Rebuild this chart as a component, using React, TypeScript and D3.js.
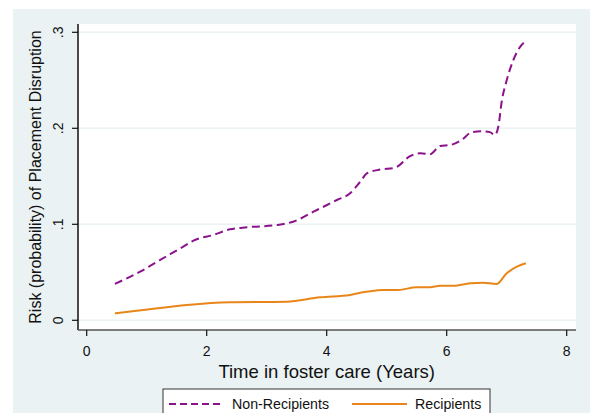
import * as d3 from "d3";

// time in care (years) and risk
const nonRecT = [0.47, 0.89, 1.22, 1.61, 1.78, 2.11, 2.39, 2.67, 3.17, 3.44, 3.78, 4.17, 4.39, 4.56, 4.67, 4.89, 5.14, 5.39, 5.56, 5.72, 5.89, 6.06, 6.25, 6.42, 6.58, 6.72, 6.8, 6.86, 6.92, 7.0, 7.11, 7.19, 7.32];
const nonRecV = [0.038, 0.0506, 0.0628, 0.0767, 0.083, 0.0889, 0.0948, 0.0969, 0.0993, 0.1027, 0.1131, 0.1253, 0.1323, 0.1444, 0.153, 0.157, 0.159, 0.171, 0.174, 0.173, 0.1816, 0.1826, 0.188, 0.196, 0.197, 0.196, 0.193, 0.2017, 0.229, 0.25, 0.271, 0.2816, 0.291];
const recT = [0.47, 0.94, 1.67, 2.39, 3.33, 3.89, 4.39, 4.56, 4.67, 4.94, 5.19, 5.5, 5.72, 5.89, 6.11, 6.39, 6.61, 6.83, 7.0, 7.17, 7.32];
const recV = [0.0073, 0.0107, 0.016, 0.0188, 0.0194, 0.024, 0.0264, 0.0288, 0.0298, 0.0316, 0.0316, 0.0344, 0.0344, 0.036, 0.036, 0.0385, 0.0392, 0.0378, 0.049, 0.0558, 0.0594];

const xTicks = [0, 2, 4, 6, 8];
const yTicks = [0, 0.1, 0.2, 0.3];
const yTickLabels = ["0", ".1", ".2", ".3"];

export default function App() {
  const width = 590;
  const height = 413;
  const left = 78, right = 576, top = 24, bottom = 330;

  const x = d3.scaleLinear([0, 8], [86.7, 566.7]);
  const y = d3.scaleLinear([0, 0.3], [320.3, 32.3]);

  const line = d3
    .line<[number, number]>()
    .x((d) => x(d[0]))
    .y((d) => y(d[1]))
    .curve(d3.curveMonotoneX);

  const nonRec = nonRecT.map((t, i) => [t, nonRecV[i]] as [number, number]);
  const rec = recT.map((t, i) => [t, recV[i]] as [number, number]);

  const font = "'Liberation Sans', Arial, sans-serif";

  return (
    <svg
      width={width}
      height={height}
      style={{ position: "absolute", left: 0, top: 0, background: "#fff" }}
      fontFamily={font}
    >
      {/* graph region */}
      <rect x={13} y={9} width={width - 13} height={height - 9} fill="#EAF2F3" />
      {/* plot region */}
      <rect x={left} y={top} width={right - left} height={bottom - top} fill="#fff" />
      {/* grid */}
      {yTicks.map((t) => (
        <line key={t} x1={left} x2={right} y1={y(t)} y2={y(t)} stroke="#EAF2F3" strokeWidth={1.5} />
      ))}
      {/* lines */}
      <path d={line(nonRec) ?? ""} fill="none" stroke="#8B128B" strokeWidth={2} strokeDasharray="8,4.5" />
      <path d={line(rec) ?? ""} fill="none" stroke="#E8861A" strokeWidth={2} />
      {/* y axis */}
      <line x1={left} x2={left} y1={top} y2={bottom} stroke="#111" strokeWidth={1.5} />
      {yTicks.map((t, i) => (
        <g key={t}>
          <line x1={left - 6} x2={left} y1={y(t)} y2={y(t)} stroke="#111" strokeWidth={1.2} />
          <text
            transform={`translate(${63},${y(t)}) rotate(-90)`}
            textAnchor="middle"
            fontSize={14}
            fill="#111"
          >
            {yTickLabels[i]}
          </text>
        </g>
      ))}
      <text
        transform={`translate(40.5,${177}) rotate(-90)`}
        textAnchor="middle"
        fontSize={16}
        fill="#111"
      >
        Risk (probability) of Placement Disruption
      </text>
      {/* x axis */}
      <line x1={left} x2={right} y1={bottom} y2={bottom} stroke="#555" strokeWidth={1.5} />
      {xTicks.map((t) => (
        <g key={t}>
          <line x1={x(t)} x2={x(t)} y1={bottom} y2={bottom + 6} stroke="#111" strokeWidth={1.2} />
          <text x={x(t)} y={356} textAnchor="middle" fontSize={14} fill="#111">
            {t}
          </text>
        </g>
      ))}
      <text x={x(4)} y={378} textAnchor="middle" fontSize={18.5} fill="#111">
        Time in foster care (Years)
      </text>
      {/* legend */}
      <rect x={163} y={389} width={327} height={32} fill="#fff" stroke="#333" strokeWidth={1} />
      <line x1={169} x2={223} y1={404} y2={404} stroke="#8B128B" strokeWidth={2} strokeDasharray="7,4" />
      <text x={232} y={409} fontSize={14.2} fill="#111">Non-Recipients</text>
      <line x1={352} x2={407} y1={404} y2={404} stroke="#E8861A" strokeWidth={2} />
      <text x={415} y={409} fontSize={14.2} fill="#111">Recipients</text>
    </svg>
  );
}
